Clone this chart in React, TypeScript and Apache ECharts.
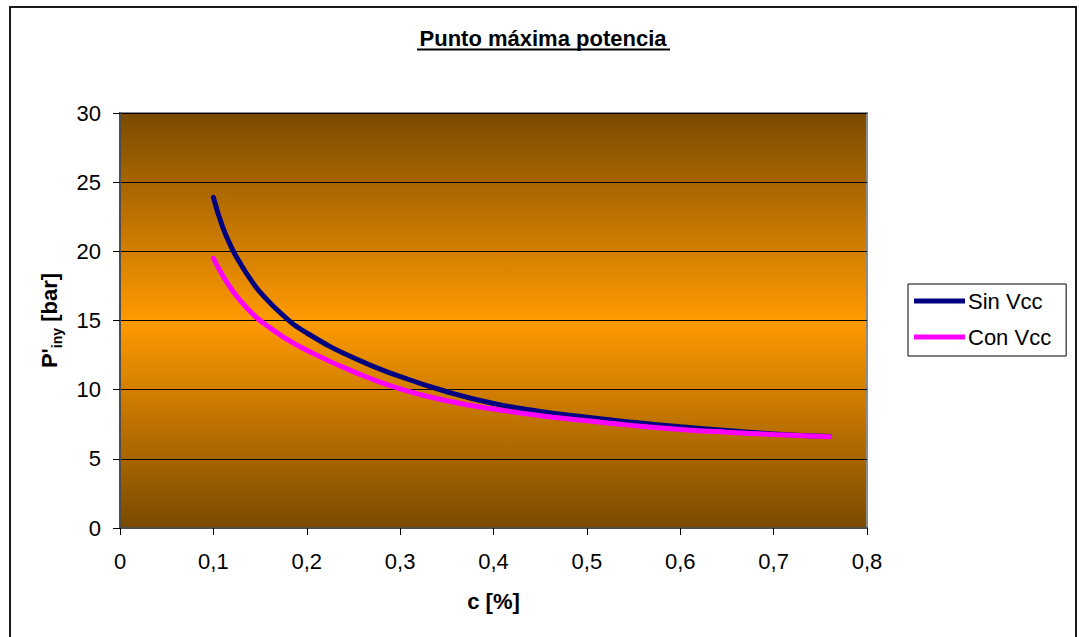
import React, { useEffect, useRef } from "react";
import * as echarts from "echarts";

// c [%] sample points and injection pressure P'iny [bar]
const cValues = [0.1, 0.11, 0.12, 0.13, 0.14, 0.15, 0.175, 0.2, 0.25, 0.3, 0.35, 0.4, 0.45, 0.5, 0.55, 0.6, 0.65, 0.7, 0.76];
const sinVcc = [23.9, 21.75, 20.2, 19.0, 17.95, 17.05, 15.35, 14.1, 12.3, 10.95, 9.85, 9.0, 8.43, 8.0, 7.64, 7.32, 7.04, 6.8, 6.62];
const conVcc = [19.5, 18.25, 17.2, 16.35, 15.62, 15.0, 13.8, 12.85, 11.3, 10.05, 9.2, 8.6, 8.12, 7.75, 7.4, 7.12, 6.92, 6.76, 6.6];

const xTicks = { min: 0, max: 0.8, interval: 0.1 };
const yTicks = { min: 0, max: 30, interval: 5 };

const seriesNames = ["Sin Vcc", "Con Vcc"];
const seriesColors = ["#000080", "#ff00ff"];

const FONT = "Liberation Sans, Arial, sans-serif";

export default function App() {
  const ref = useRef<HTMLDivElement>(null);

  useEffect(() => {
    if (!ref.current) return;
    const chart = echarts.init(ref.current, null, { renderer: "svg" });

    const toPairs = (ys: number[]) => cValues.map((c, i) => [c, ys[i]]);

    chart.setOption({
      animation: false,
      backgroundColor: "#ffffff",
      textStyle: { fontFamily: FONT },
      grid: {
        left: 120,
        top: 113,
        right: 212,
        bottom: 109,
        show: true,
        borderColor: "#8c8c8c",
        borderWidth: 2,
        backgroundColor: new echarts.graphic.LinearGradient(0, 0, 0, 1, [
          { offset: 0, color: "#7a4a00" },
          { offset: 0.5, color: "#ff9a00" },
          { offset: 1, color: "#7a4a00" },
        ]),
      },
      legend: {
        orient: "vertical",
        left: 908,
        top: 284,
        padding: [5, 15, 7, 6],
        borderColor: "#000",
        borderWidth: 1,
        icon: "rect",
        itemWidth: 51,
        itemHeight: 5,
        itemGap: 12,
        data: seriesNames,
        textStyle: { fontSize: 22, color: "#000", lineHeight: 24, fontFamily: FONT, padding: [0, 0, 0, -2] },
      },
      xAxis: {
        type: "value",
        min: xTicks.min,
        max: xTicks.max,
        interval: xTicks.interval,
        name: "c [%]",
        nameLocation: "middle",
        nameGap: 62,
        nameTextStyle: { fontSize: 22, fontWeight: "bold", color: "#000", fontFamily: FONT },
        axisLine: { show: true, onZero: false, lineStyle: { color: "#4d4d4d", width: 2 } },
        axisTick: { show: true, length: 7, lineStyle: { color: "#000" } },
        axisLabel: {
          fontSize: 22,
          color: "#000",
          margin: 22,
          fontFamily: FONT,
          formatter: (v: number) => (v === 0 ? "0" : v.toFixed(1).replace(".", ",")),
        },
        splitLine: { show: false },
      },
      yAxis: {
        type: "value",
        min: yTicks.min,
        max: yTicks.max,
        interval: yTicks.interval,
        name: "{m|P'}{s|iny}{m| [bar]}",
        nameLocation: "middle",
        nameGap: 58,
        nameRotate: 90,
        nameTextStyle: {
          color: "#000",
          fontFamily: FONT,
          rich: {
            m: { fontSize: 22, fontWeight: "bold", color: "#000", lineHeight: 26, fontFamily: FONT },
            s: { fontSize: 14, fontWeight: "bold", color: "#000", lineHeight: 14, verticalAlign: "bottom", padding: [0, 0, -2, 0], fontFamily: FONT },
          },
        },
        axisLine: { show: true, onZero: false, lineStyle: { color: "#4d4d4d", width: 2 } },
        axisTick: { show: true, length: 7, lineStyle: { color: "#000" } },
        axisLabel: { fontSize: 22, color: "#000", margin: 19, fontFamily: FONT },
        splitLine: { show: true, lineStyle: { color: "#000", width: 1 } },
      },
      series: [
        {
          name: seriesNames[0],
          type: "line",
          data: toPairs(sinVcc),
          smooth: 0.5,
          showSymbol: false,
          symbol: "none",
          color: seriesColors[0],
          lineStyle: { color: seriesColors[0], width: 5, cap: "round" },
          z: 3,
        },
        {
          name: seriesNames[1],
          type: "line",
          data: toPairs(conVcc),
          smooth: 0.5,
          showSymbol: false,
          symbol: "none",
          color: seriesColors[1],
          lineStyle: { color: seriesColors[1], width: 5, cap: "round" },
          z: 4,
        },
      ],
      graphic: [
        {
          type: "rect",
          silent: true,
          z: -1,
          shape: { x: 10, y: 7, width: 1066, height: 640 },
          style: { fill: "none", stroke: "#1a1a1a", lineWidth: 2 },
        },
        {
          type: "text",
          x: 543,
          y: 38,
          style: {
            text: "Punto máxima potencia",
            fontSize: 22,
            fontWeight: "bold",
            fontFamily: FONT,
            fill: "#000",
            textAlign: "center",
            textVerticalAlign: "middle",
          },
        },
        {
          type: "line",
          shape: { x1: 417, y1: 49.5, x2: 670, y2: 49.5 },
          style: { stroke: "#000", lineWidth: 2 },
        },
      ],
    });

    return () => chart.dispose();
  }, []);

  return (
    <div
      ref={ref}
      style={{ position: "absolute", left: 0, top: 0, width: 1079, height: 637 }}
    />
  );
}
